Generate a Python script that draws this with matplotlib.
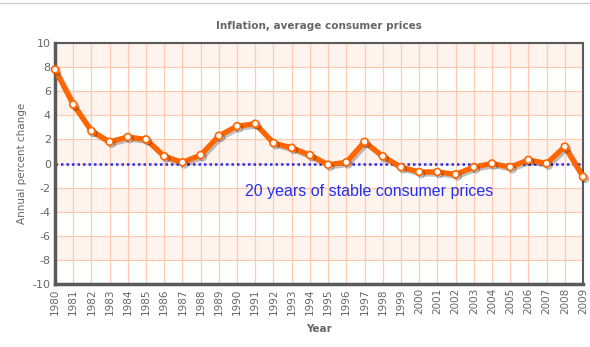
import matplotlib
matplotlib.use("Agg")
import matplotlib.pyplot as plt
import matplotlib.patheffects as pe

years = list(range(1980, 2010))
inflation = [7.8, 4.9, 2.7, 1.8, 2.2, 2.0, 0.6, 0.1, 0.7, 2.3,
             3.1, 3.3, 1.7, 1.3, 0.7, -0.1, 0.1, 1.8, 0.6, -0.3,
             -0.7, -0.7, -0.9, -0.3, 0.0, -0.3, 0.3, 0.0, 1.4, -1.1]
y_ticks = list(range(-10, 11, 2))
note = "20 years of stable consumer prices"

grid_col = "#FFCBB0"
band_col = "#FFF3EE"
text_col = "#666666"

fig = plt.figure(figsize=(5.9, 3.47), dpi=100)
ax = fig.add_axes([55 / 590, 1 - 284 / 347, 528 / 590, 241 / 347])

# alternating bands, shaded from the top
for top in range(10, -10, -4):
    ax.axhspan(top - 2, top, color=band_col, lw=0, zorder=0)

ax.set_xlim(years[0], years[-1])
ax.set_ylim(-10, 10)
ax.set_xticks(years)
ax.set_xticklabels([str(y) for y in years], rotation=90, fontsize=7.5, color=text_col)
ax.set_yticks(y_ticks)
ax.set_yticklabels([str(t) for t in y_ticks], fontsize=8, color=text_col)
ax.tick_params(length=0, pad=3)
ax.grid(True, color=grid_col, lw=0.9, zorder=1)
ax.set_axisbelow(True)

for side in ["left", "bottom"]:
    ax.spines[side].set_linewidth(2.5)
    ax.spines[side].set_color("#5A5A5A")
for side in ["right", "top"]:
    ax.spines[side].set_linewidth(1.5)
    ax.spines[side].set_color("#5A5A5A")

ax.axhline(0, color="#2233EE", lw=1.8, ls=(0, (1, 1.2)), zorder=2)

ax.plot(years, inflation, color="#FF6600", lw=3.8, marker="o", ms=5,
        mfc="white", mec="#FF6600", mew=1.2, zorder=3, clip_on=False,
        path_effects=[pe.SimpleLineShadow(offset=(1.5, -1.5), alpha=0.25), pe.Normal()])

ax.text(1990.45, -2.35, note, fontsize=11.5, color="#2233EE",
        family="Liberation Sans", va="center", ha="left")

ax.set_title("Inflation, average consumer prices", fontsize=7.5, fontweight="bold",
             color=text_col, pad=10)
ax.set_xlabel("Year", fontsize=7.5, fontweight="bold", color=text_col, labelpad=7)
ax.set_ylabel("Annual percent change", fontsize=7.5, color=text_col, labelpad=4)

fig.add_artist(plt.Line2D([0, 1], [1 - 2.5 / 347] * 2, color="#CCCCCC", lw=1))

fig.savefig("out.png", dpi=100)
